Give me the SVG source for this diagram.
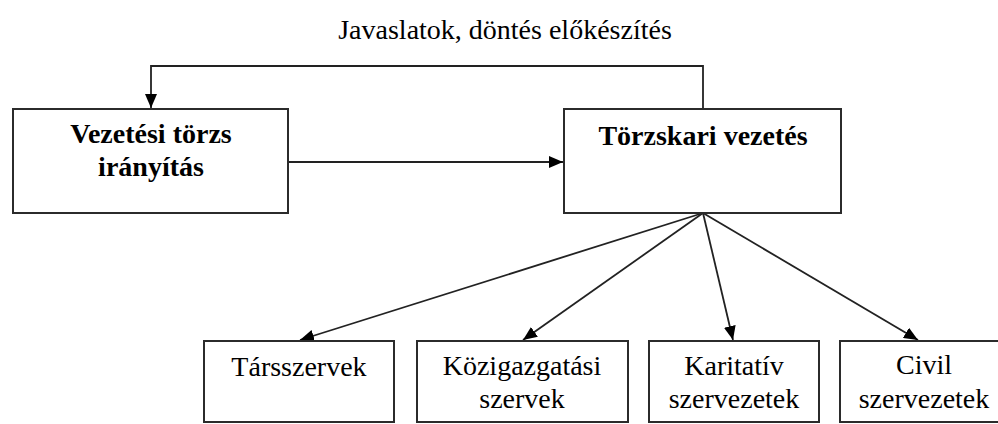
<svg xmlns="http://www.w3.org/2000/svg" width="998" height="424" viewBox="0 0 998 424">
  <style>
    .box { fill: #ffffff; stroke: #2b2b2b; stroke-width: 2; }
    .line { fill: none; stroke: #222222; stroke-width: 1.8; }
    .bold { font-family: "Liberation Serif", "Times New Roman", serif; font-weight: bold; font-size: 28px; fill: #000; text-anchor: middle; }
    .reg { font-family: "Liberation Serif", "Times New Roman", serif; font-size: 28px; fill: #000; text-anchor: middle; }
  </style>
  <defs>
    <marker id="arrow" viewBox="0 0 14 12" refX="14" refY="6" markerWidth="14" markerHeight="12" markerUnits="userSpaceOnUse" orient="auto">
      <path d="M0,0 L14,6 L0,12 Z" fill="#000"/>
    </marker>
  </defs>
  <rect width="998" height="424" fill="#ffffff"/>

  <text class="reg" x="505" y="39">Javaslatok, döntés előkészítés</text>

  <g id="connectors">
    <polyline class="line" points="703,109 703,66 151,66 151,108" marker-end="url(#arrow)"/>
    <line class="line" x1="289" y1="162" x2="563" y2="162" marker-end="url(#arrow)"/>
    <line class="line" x1="703" y1="213" x2="300" y2="340" marker-end="url(#arrow)"/>
    <line class="line" x1="703" y1="213" x2="523" y2="340" marker-end="url(#arrow)"/>
    <line class="line" x1="703" y1="213" x2="733" y2="340" marker-end="url(#arrow)"/>
    <line class="line" x1="703" y1="213" x2="918" y2="340" marker-end="url(#arrow)"/>
  </g>

  <g id="vezetesi-torzs">
    <rect class="box" x="13" y="109" width="275" height="104"/>
    <text class="bold" x="151" y="143">Vezetési törzs</text>
    <text class="bold" x="151" y="176">irányítás</text>
  </g>

  <g id="torzskari-vezetes">
    <rect class="box" x="564" y="109" width="277" height="104"/>
    <text class="bold" x="703" y="145">Törzskari vezetés</text>
  </g>

  <g id="tarsszervek">
    <rect class="box" x="204" y="341" width="190" height="81"/>
    <text class="reg" x="299" y="376">Társszervek</text>
  </g>

  <g id="kozigazgatasi-szervek">
    <rect class="box" x="417" y="341" width="211" height="81"/>
    <text class="reg" x="522" y="375">Közigazgatási</text>
    <text class="reg" x="522" y="408">szervek</text>
  </g>

  <g id="karitativ-szervezetek">
    <rect class="box" x="649" y="341" width="170" height="81"/>
    <text class="reg" x="734" y="375">Karitatív</text>
    <text class="reg" x="734" y="408">szervezetek</text>
  </g>

  <g id="civil-szervezetek">
    <rect class="box" x="840" y="341" width="170" height="81"/>
    <text class="reg" x="924" y="374">Civil</text>
    <text class="reg" x="924" y="408">szervezetek</text>
  </g>
</svg>
